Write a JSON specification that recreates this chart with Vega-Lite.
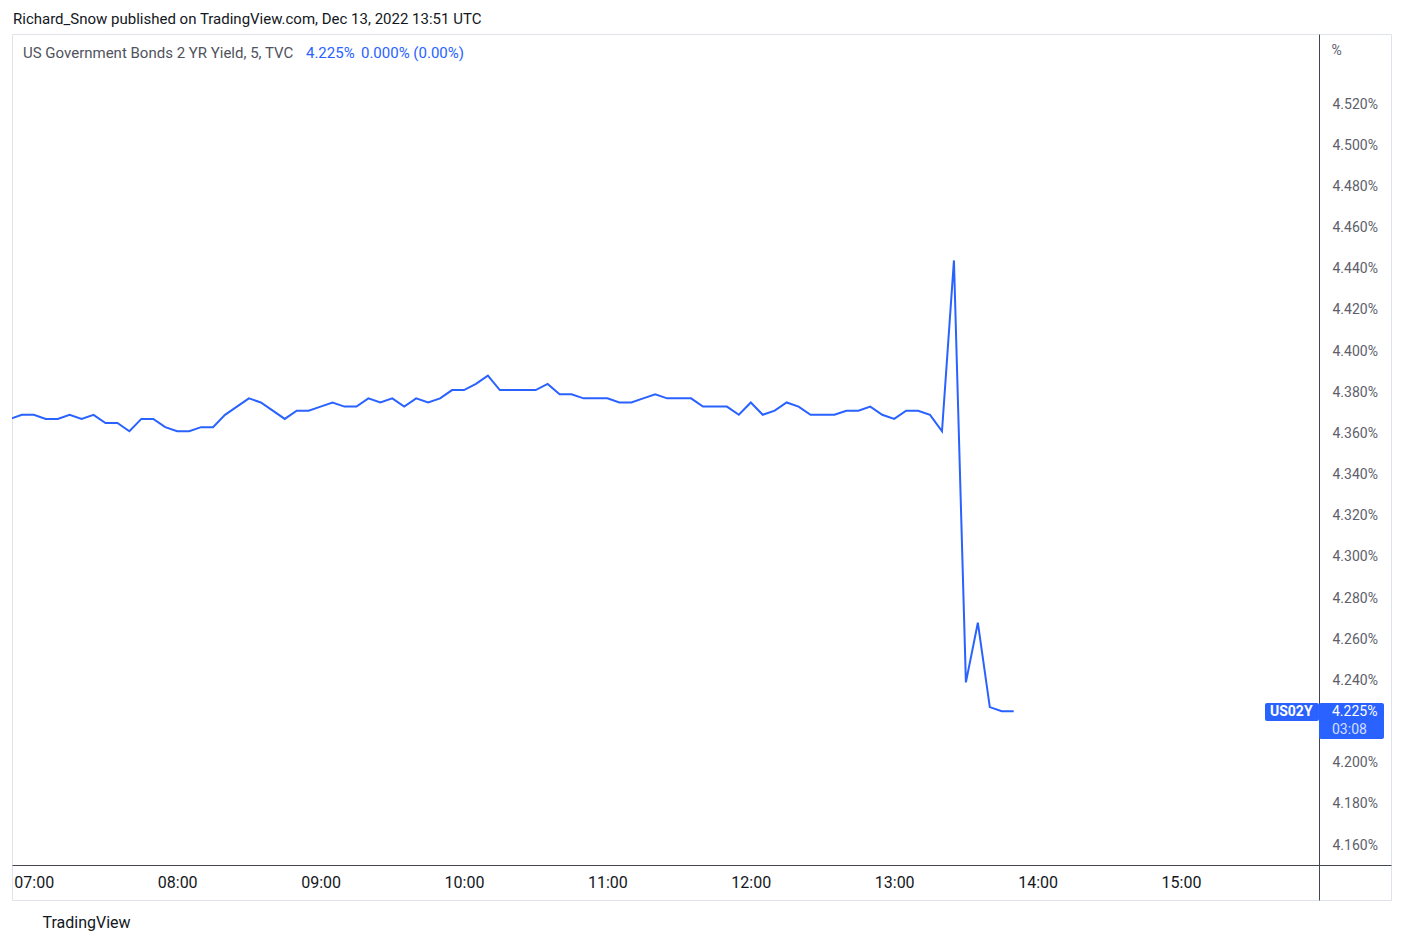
{
  "$schema": "https://vega.github.io/schema/vega-lite/v6.json",
  "autosize": {"type": "none"},
  "width": 1379,
  "height": 866,
  "padding": {"left": 12, "top": 34, "right": 13, "bottom": 44},
  "background": "white",
  "config": {"view": {"stroke": "#e0e3eb", "strokeWidth": 1}, "font": "Roboto"},
  "title": {"text": "Richard_Snow published on TradingView.com, Dec 13, 2022 13:51 UTC", "anchor": "start", "frame": "group", "orient": "top", "offset": 0, "baseline": "middle", "fontSize": 15, "fontWeight": "normal", "color": "#131722", "font": "Roboto", "dx": 1},
  "data": {"values": [
    {"t": "2022-12-13T06:50:00Z", "yield": 4.367},
    {"t": "2022-12-13T06:55:00Z", "yield": 4.369},
    {"t": "2022-12-13T07:00:00Z", "yield": 4.369},
    {"t": "2022-12-13T07:05:00Z", "yield": 4.367},
    {"t": "2022-12-13T07:10:00Z", "yield": 4.367},
    {"t": "2022-12-13T07:15:00Z", "yield": 4.369},
    {"t": "2022-12-13T07:20:00Z", "yield": 4.367},
    {"t": "2022-12-13T07:25:00Z", "yield": 4.369},
    {"t": "2022-12-13T07:30:00Z", "yield": 4.365},
    {"t": "2022-12-13T07:35:00Z", "yield": 4.365},
    {"t": "2022-12-13T07:40:00Z", "yield": 4.361},
    {"t": "2022-12-13T07:45:00Z", "yield": 4.367},
    {"t": "2022-12-13T07:50:00Z", "yield": 4.367},
    {"t": "2022-12-13T07:55:00Z", "yield": 4.363},
    {"t": "2022-12-13T08:00:00Z", "yield": 4.361},
    {"t": "2022-12-13T08:05:00Z", "yield": 4.361},
    {"t": "2022-12-13T08:10:00Z", "yield": 4.363},
    {"t": "2022-12-13T08:15:00Z", "yield": 4.363},
    {"t": "2022-12-13T08:20:00Z", "yield": 4.369},
    {"t": "2022-12-13T08:25:00Z", "yield": 4.373},
    {"t": "2022-12-13T08:30:00Z", "yield": 4.377},
    {"t": "2022-12-13T08:35:00Z", "yield": 4.375},
    {"t": "2022-12-13T08:40:00Z", "yield": 4.371},
    {"t": "2022-12-13T08:45:00Z", "yield": 4.367},
    {"t": "2022-12-13T08:50:00Z", "yield": 4.371},
    {"t": "2022-12-13T08:55:00Z", "yield": 4.371},
    {"t": "2022-12-13T09:00:00Z", "yield": 4.373},
    {"t": "2022-12-13T09:05:00Z", "yield": 4.375},
    {"t": "2022-12-13T09:10:00Z", "yield": 4.373},
    {"t": "2022-12-13T09:15:00Z", "yield": 4.373},
    {"t": "2022-12-13T09:20:00Z", "yield": 4.377},
    {"t": "2022-12-13T09:25:00Z", "yield": 4.375},
    {"t": "2022-12-13T09:30:00Z", "yield": 4.377},
    {"t": "2022-12-13T09:35:00Z", "yield": 4.373},
    {"t": "2022-12-13T09:40:00Z", "yield": 4.377},
    {"t": "2022-12-13T09:45:00Z", "yield": 4.375},
    {"t": "2022-12-13T09:50:00Z", "yield": 4.377},
    {"t": "2022-12-13T09:55:00Z", "yield": 4.381},
    {"t": "2022-12-13T10:00:00Z", "yield": 4.381},
    {"t": "2022-12-13T10:05:00Z", "yield": 4.384},
    {"t": "2022-12-13T10:10:00Z", "yield": 4.388},
    {"t": "2022-12-13T10:15:00Z", "yield": 4.381},
    {"t": "2022-12-13T10:20:00Z", "yield": 4.381},
    {"t": "2022-12-13T10:25:00Z", "yield": 4.381},
    {"t": "2022-12-13T10:30:00Z", "yield": 4.381},
    {"t": "2022-12-13T10:35:00Z", "yield": 4.384},
    {"t": "2022-12-13T10:40:00Z", "yield": 4.379},
    {"t": "2022-12-13T10:45:00Z", "yield": 4.379},
    {"t": "2022-12-13T10:50:00Z", "yield": 4.377},
    {"t": "2022-12-13T10:55:00Z", "yield": 4.377},
    {"t": "2022-12-13T11:00:00Z", "yield": 4.377},
    {"t": "2022-12-13T11:05:00Z", "yield": 4.375},
    {"t": "2022-12-13T11:10:00Z", "yield": 4.375},
    {"t": "2022-12-13T11:15:00Z", "yield": 4.377},
    {"t": "2022-12-13T11:20:00Z", "yield": 4.379},
    {"t": "2022-12-13T11:25:00Z", "yield": 4.377},
    {"t": "2022-12-13T11:30:00Z", "yield": 4.377},
    {"t": "2022-12-13T11:35:00Z", "yield": 4.377},
    {"t": "2022-12-13T11:40:00Z", "yield": 4.373},
    {"t": "2022-12-13T11:45:00Z", "yield": 4.373},
    {"t": "2022-12-13T11:50:00Z", "yield": 4.373},
    {"t": "2022-12-13T11:55:00Z", "yield": 4.369},
    {"t": "2022-12-13T12:00:00Z", "yield": 4.375},
    {"t": "2022-12-13T12:05:00Z", "yield": 4.369},
    {"t": "2022-12-13T12:10:00Z", "yield": 4.371},
    {"t": "2022-12-13T12:15:00Z", "yield": 4.375},
    {"t": "2022-12-13T12:20:00Z", "yield": 4.373},
    {"t": "2022-12-13T12:25:00Z", "yield": 4.369},
    {"t": "2022-12-13T12:30:00Z", "yield": 4.369},
    {"t": "2022-12-13T12:35:00Z", "yield": 4.369},
    {"t": "2022-12-13T12:40:00Z", "yield": 4.371},
    {"t": "2022-12-13T12:45:00Z", "yield": 4.371},
    {"t": "2022-12-13T12:50:00Z", "yield": 4.373},
    {"t": "2022-12-13T12:55:00Z", "yield": 4.369},
    {"t": "2022-12-13T13:00:00Z", "yield": 4.367},
    {"t": "2022-12-13T13:05:00Z", "yield": 4.371},
    {"t": "2022-12-13T13:10:00Z", "yield": 4.371},
    {"t": "2022-12-13T13:15:00Z", "yield": 4.369},
    {"t": "2022-12-13T13:20:00Z", "yield": 4.361},
    {"t": "2022-12-13T13:25:00Z", "yield": 4.444},
    {"t": "2022-12-13T13:30:00Z", "yield": 4.239},
    {"t": "2022-12-13T13:35:00Z", "yield": 4.268},
    {"t": "2022-12-13T13:40:00Z", "yield": 4.227},
    {"t": "2022-12-13T13:45:00Z", "yield": 4.225},
    {"t": "2022-12-13T13:50:00Z", "yield": 4.225}
  ]},
  "layer": [
    {
      "mark": {"type": "line", "stroke": "#2962ff", "strokeWidth": 2, "clip": true, "strokeJoin": "miter"},
      "encoding": {
        "x": {"field": "t", "type": "temporal",
          "scale": {"type": "utc", "domain": [1670914253000, 1670948872000]},
          "axis": {"orient": "bottom", "offset": -35,
            "values": [1670914800000, 1670918400000, 1670922000000, 1670925600000, 1670929200000, 1670932800000, 1670936400000, 1670940000000, 1670943600000],
            "labelExpr": "utcFormat(datum.value, '%H:%M')",
            "ticks": false, "tickSize": 0, "grid": false,
            "domainColor": "#434651", "domainWidth": 1,
            "labelPadding": 17, "labelBaseline": "middle", "labelFontSize": 16, "labelColor": "#131722", "labelFont": "Roboto",
            "labelFlush": false, "labelOverlap": false,
            "title": "TradingView", "titleX": 30, "titleY": 57, "titleAlign": "left", "titleBaseline": "middle", "titleAngle": 0,
            "titleFontSize": 16, "titleFontWeight": "normal", "titleColor": "#131722", "titleFont": "Roboto"}},
        "y": {"field": "yield", "type": "quantitative",
          "scale": {"domain": [4.13328, 4.55401], "zero": false, "nice": false},
          "axis": {"orient": "right", "offset": -72,
            "values": [4.16, 4.18, 4.2, 4.24, 4.26, 4.28, 4.3, 4.32, 4.34, 4.36, 4.38, 4.4, 4.42, 4.44, 4.46, 4.48, 4.5, 4.52],
            "labelExpr": "format(datum.value, '.3f') + '%'",
            "ticks": false, "tickSize": 0, "grid": false,
            "domainColor": "#434651", "domainWidth": 1,
            "labelPadding": 13, "labelAlign": "left", "labelBaseline": "middle", "labelFontSize": 14, "labelColor": "#5d606b", "labelFont": "Roboto",
            "labelOverlap": false, "labelFlush": false,
            "title": "%", "titleAngle": 0, "titleX": 12, "titleY": 16, "titleAlign": "left", "titleBaseline": "middle",
            "titleFontSize": 14, "titleFontWeight": "normal", "titleColor": "#5d606b", "titleFont": "Roboto"}}
      }
    },
    {
      "data": {"values": [{"label": "US02Y"}]},
      "mark": {"type": "rect", "fill": "#2962ff", "cornerRadius": 2},
      "encoding": {
        "x": {"datum": {"year": 2022, "month": 12, "date": 13, "hours": 15, "minutes": 35, "seconds": 9, "utc": true}, "type": "temporal"},
        "x2": {"datum": {"year": 2022, "month": 12, "date": 13, "hours": 15, "minutes": 57, "seconds": 44, "utc": true}},
        "y": {"datum": 4.22898, "type": "quantitative"},
        "y2": {"datum": 4.22024}
      }
    },
    {
      "data": {"values": [{"label": "4.225%"}]},
      "mark": {"type": "rect", "fill": "#2962ff", "cornerRadius": 2},
      "encoding": {
        "x": {"datum": {"year": 2022, "month": 12, "date": 13, "hours": 15, "minutes": 57, "seconds": 44, "utc": true}, "type": "temporal"},
        "x2": {"datum": {"year": 2022, "month": 12, "date": 13, "hours": 16, "minutes": 24, "seconds": 56, "utc": true}},
        "y": {"datum": 4.22898, "type": "quantitative"},
        "y2": {"datum": 4.21149}
      }
    },
    {
      "data": {"values": [{"label": "US02Y"}]},
      "mark": {"type": "text", "fill": "white", "fontSize": 14, "fontWeight": "bold", "align": "left", "baseline": "middle", "font": "Roboto"},
      "encoding": {
        "x": {"datum": {"year": 2022, "month": 12, "date": 13, "hours": 15, "minutes": 37, "seconds": 14, "utc": true}, "type": "temporal"},
        "y": {"datum": 4.2246, "type": "quantitative"},
        "text": {"field": "label"}
      }
    },
    {
      "data": {"values": [{"label": "4.225%"}]},
      "mark": {"type": "text", "fill": "white", "fontSize": 14, "align": "left", "baseline": "middle", "font": "Roboto"},
      "encoding": {
        "x": {"datum": {"year": 2022, "month": 12, "date": 13, "hours": 16, "minutes": 3, "seconds": 11, "utc": true}, "type": "temporal"},
        "y": {"datum": 4.2246, "type": "quantitative"},
        "text": {"field": "label"}
      }
    },
    {
      "data": {"values": [{"label": "03:08"}]},
      "mark": {"type": "text", "fill": "white", "fillOpacity": 0.8, "fontSize": 14, "align": "left", "baseline": "middle", "font": "Roboto"},
      "encoding": {
        "x": {"datum": {"year": 2022, "month": 12, "date": 13, "hours": 16, "minutes": 3, "seconds": 11, "utc": true}, "type": "temporal"},
        "y": {"datum": 4.21587, "type": "quantitative"},
        "text": {"field": "label"}
      }
    },
    {
      "data": {"values": [{"label": "US Government Bonds 2 YR Yield, 5, TVC"}]},
      "mark": {"type": "text", "fill": "#50535e", "fontSize": 15, "align": "left", "baseline": "middle", "font": "Roboto"},
      "encoding": {
        "x": {"datum": {"year": 2022, "month": 12, "date": 13, "hours": 6, "minutes": 55, "seconds": 29, "utc": true}, "type": "temporal"},
        "y": {"datum": 4.54478, "type": "quantitative"},
        "text": {"field": "label"}
      }
    },
    {
      "data": {"values": [{"label": "4.225%"}]},
      "mark": {"type": "text", "fill": "#2962ff", "fontSize": 15, "align": "left", "baseline": "middle", "font": "Roboto"},
      "encoding": {
        "x": {"datum": {"year": 2022, "month": 12, "date": 13, "hours": 8, "minutes": 53, "seconds": 53, "utc": true}, "type": "temporal"},
        "y": {"datum": 4.54478, "type": "quantitative"},
        "text": {"field": "label"}
      }
    },
    {
      "data": {"values": [{"label": "0.000% (0.00%)"}]},
      "mark": {"type": "text", "fill": "#2962ff", "fontSize": 15, "align": "left", "baseline": "middle", "font": "Roboto"},
      "encoding": {
        "x": {"datum": {"year": 2022, "month": 12, "date": 13, "hours": 9, "minutes": 16, "seconds": 54, "utc": true}, "type": "temporal"},
        "y": {"datum": 4.54478, "type": "quantitative"},
        "text": {"field": "label"}
      }
    }
  ]
}
